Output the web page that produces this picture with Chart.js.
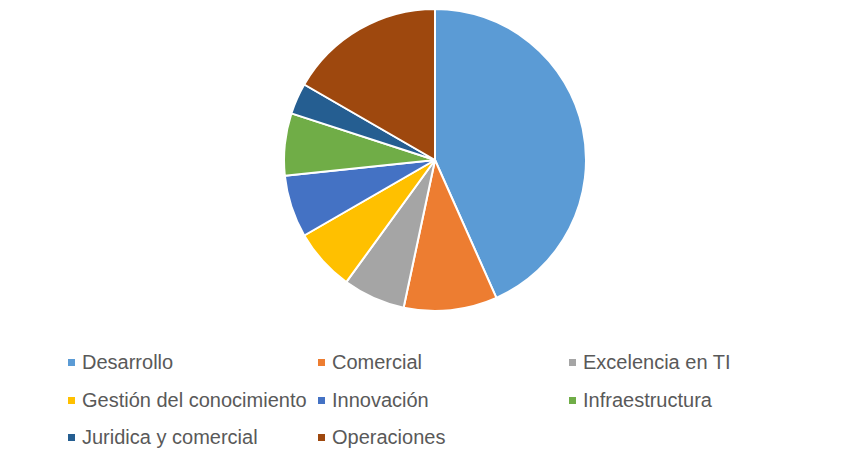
<!DOCTYPE html>
<html>
<head>
<meta charset="utf-8">
<script src="https://cdn.jsdelivr.net/npm/chart.js@4/dist/chart.umd.min.js"></script>
<style>
    html, body { margin: 0; padding: 0; background: #fff; }
    #wrap { position: relative; width: 851px; height: 463px; overflow: hidden; }
    #pieBox { position: absolute; left: 283px; top: 8px; width: 304px; height: 304px; }
    .leg { position: absolute; display: flex; align-items: center; gap: 7px;
           font-family: 'Liberation Sans', Arial, sans-serif; font-size: 20px; color: #595959;
           white-space: nowrap; line-height: 1; }
    .leg i { width: 7px; height: 7px; display: inline-block; flex-shrink: 0; }
</style>
</head>
<body>
<div id="wrap">
    <div id="pieBox"><canvas id="areaChart"></canvas></div>
    <div id="legend"></div>
</div>
<script>
const AREAS  = ['Desarrollo', 'Comercial', 'Excelencia en TI', 'Gestión del conocimiento',
                'Innovación', 'Infraestructura', 'Juridica y comercial', 'Operaciones'];
const COUNTS = [13, 3, 2, 2, 2, 2, 1, 5];
const COLORS = ['#5B9BD5', '#ED7D31', '#A5A5A5', '#FFC000', '#4472C4', '#70AD47', '#255E91', '#9E480E'];

// legend grid: three columns, three rows
const LEG_COLS = [68, 318, 569];
const LEG_ROWS = [362, 400, 437];

function buildLegend() {
    const el = document.getElementById('legend');
    el.innerHTML = AREAS.map((a, i) => {
        const x = LEG_COLS[i % 3];
        const y = LEG_ROWS[Math.floor(i / 3)] - 10;
        return `<span class="leg" style="left:${x}px;top:${y}px;height:20px">
                    <i style="background:${COLORS[i]}"></i>${a}</span>`;
    }).join('');
}

buildLegend();

new Chart(document.getElementById('areaChart'), {
    type: 'pie',
    data: {
        labels: AREAS,
        datasets: [{
            data: COUNTS,
            backgroundColor: COLORS,
            borderColor: '#ffffff',
            borderWidth: 2,
        }],
    },
    options: {
        responsive: true,
        maintainAspectRatio: false,
        animation: false,
        layout: { padding: 0 },
        plugins: {
            legend: { display: false },
            tooltip: { enabled: false },
        },
    },
});
</script>
</body>
</html>
